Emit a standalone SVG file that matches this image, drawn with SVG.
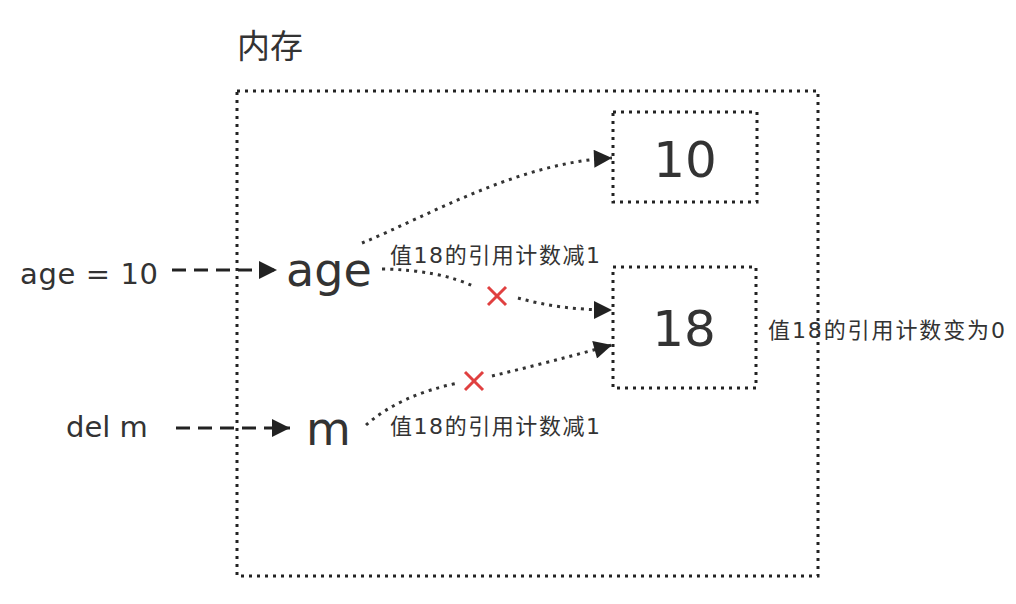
<svg xmlns="http://www.w3.org/2000/svg" width="1016" height="604" viewBox="0 0 1016 604">
<style>
.box{fill:none;stroke:#222;stroke-width:3;stroke-dasharray:3 5}
.t{font-family:"DejaVu Sans","Noto Sans CJK SC",sans-serif;fill:#333}
.c{fill:none;stroke:#333;stroke-width:3;stroke-dasharray:3 5}
.d{fill:none;stroke:#222;stroke-width:3;stroke-dasharray:14 8}
.x{stroke:#e04040;stroke-width:3}
</style>
<defs>
<marker id="ah" viewBox="0 0 10 10" refX="10" refY="5" markerWidth="30" markerHeight="18" markerUnits="userSpaceOnUse" orient="auto">
<path d="M0,0 L10,5 L0,10 Z" fill="#222"/>
</marker>
</defs>
<rect width="1016" height="604" fill="#fff"/>
<g id="memory">
<rect class="box" x="237" y="91" width="581" height="485"/>
<text class="t" x="237" y="58" font-size="33">内存</text>
</g>
<g id="v10">
<rect class="box" x="613" y="112" width="144" height="90"/>
<text class="t" x="685" y="177" font-size="50" text-anchor="middle">10</text>
</g>
<g id="v18">
<rect class="box" x="613" y="267" width="143" height="121"/>
<text class="t" x="684" y="346" font-size="50" text-anchor="middle">18</text>
</g>
<g id="age">
<text class="t" x="286" y="286" font-size="46">age</text>
</g>
<g id="m">
<text class="t" x="306" y="445" font-size="46">m</text>
</g>
<g id="age10">
<text class="t" x="20" y="284" font-size="29" textLength="138" lengthAdjust="spacing">age = 10</text>
</g>
<g id="delm">
<text class="t" x="66" y="437" font-size="29">del m</text>
</g>
<g id="connectors">
<path class="d" d="M172,270 L277,270" marker-end="url(#ah)"/>
<path class="d" d="M176,428 L290,428" marker-end="url(#ah)"/>
<path class="c" d="M362,243 C430,215 520,162 612,158" marker-end="url(#ah)"/>
<path class="c" d="M382,269 Q440,270 475,287" />
<path class="c" d="M518,298 Q560,310 612,310" marker-end="url(#ah)"/>
<path class="c" d="M366,425 Q400,395 458,383"/>
<path class="c" d="M492,376 Q550,362 612,345" marker-end="url(#ah)"/>
<line class="x" x1="488" y1="287" x2="506" y2="305"/>
<line class="x" x1="506" y1="287" x2="488" y2="305"/>
<line class="x" x1="465" y1="372" x2="483" y2="390"/>
<line class="x" x1="483" y1="372" x2="465" y2="390"/>
<text class="t" x="390" y="263" font-size="22" textLength="210" lengthAdjust="spacing">值18的引用计数减1</text>
<text class="t" x="390" y="434" font-size="22" textLength="210" lengthAdjust="spacing">值18的引用计数减1</text>
<text class="t" x="768" y="338" font-size="22" textLength="237" lengthAdjust="spacing">值18的引用计数变为0</text>
</g>
</svg>
